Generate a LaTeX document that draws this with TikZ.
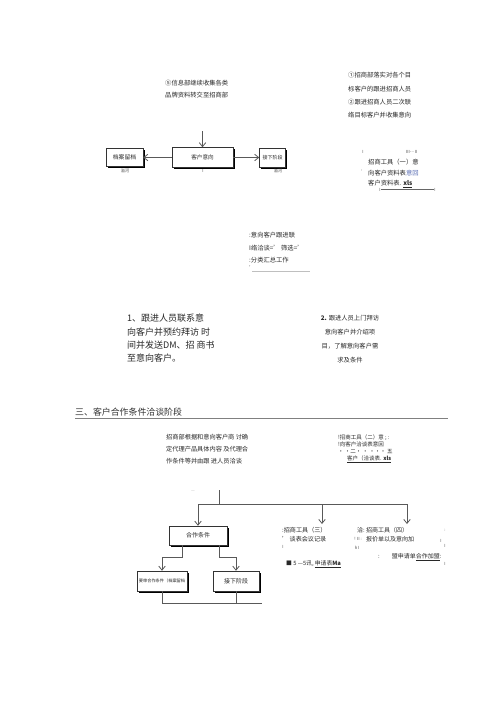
\documentclass[tikz,border=0pt]{standalone}
\usepackage{fontspec}
\setmainfont{Noto Sans CJK SC}
\usetikzlibrary{arrows.meta,shadows}
\definecolor{lnk}{RGB}{90,110,180}
\definecolor{ink}{RGB}{40,40,40}
\begin{document}
\begin{tikzpicture}[x=1pt,y=-1pt,
  txt/.style={inner sep=0pt,anchor=north west,align=left,text=ink},
  fsz/.style 2 args={font=\fontsize{#1}{#2}\selectfont},
  tiny/.style={inner sep=0pt,font=\fontsize{4.2}{5}\selectfont,text=black!70},
  sbox/.style={draw=black!80,line width=0.5pt,fill=white,inner sep=0pt,text=ink,
    drop shadow={shadow xshift=1.5pt,shadow yshift=-1.5pt,fill=black,opacity=1}},
  conn/.style={draw=black!65,line width=0.8pt},
  arr/.style={conn,-{Straight Barb[length=4pt,width=6.5pt]}},
  faint/.style={draw=black!25,line width=1pt}]
\useasboundingbox[fill=white] (0,0) rectangle (500,707);

% ---------- top part ----------
\node[txt,fsz={6.3}{12}] (t5) at (165,80.2) {⑤信息部继续收集各类\\品牌资料转交至招商部};
\node[sbox,minimum width=61pt,minimum height=20pt,fsz={5.6}{6}] (A) at (202.5,157.5) {客户意向};
\node[sbox,minimum width=37pt,minimum height=18pt,fsz={5.8}{6}] (B) at (124.5,157.5) {档案留档};
\node[sbox,minimum width=26pt,minimum height=19pt,fsz={5}{6}] (C) at (272.5,157.5) {接下阶段};
\coordinate (a0) at (202.5,131);
\draw[arr] (a0) -- (A.north);
\draw[arr] (A.west) -- (B.east);
\draw[arr] (A.east) -- (C.west);
\node[tiny] (B1) at (125,171) {溢河};
\node[tiny] (C1) at (278,171) {溢河};
\node[tiny] (A1) at (203,171) {I};

\node[txt,fsz={6.3}{13.3}] (t12) at (348,72.2) {①招商部落实对各个目\\标客户的跟进招商人员\\②跟进招商人员二次联\\络目标客户并收集意向};

\node[tiny] (r0) at (363,152) {I};
\node[tiny] (r1) at (412,152) {Ⅲ- -Ⅱ};
\node[txt,fsz={6.3}{10.5}] (t3) at (368,159.2) {招商工具（一）意\\向客户资料表\textcolor{lnk}{意回}\\客户资料表. \textbf{\underline{xls}}};
\node[tiny] (r4) at (363.5,172) {'};
\node[tiny] (r2) at (380,189.5) {I};
\node[tiny] (r3) at (435,189.5) {I};
\draw[draw=black!60,line width=0.5pt] (r2) -- (r3);

% ---------- middle ----------
\node[txt,fsz={6.3}{12.5}] (t4) at (249,232.2) {:意向客户跟进联\\I络洽谈=' 筛选='\\:分类汇总工作};
\node[tiny] (t4c) at (251,266) {，};
\coordinate (g1) at (252,271);
\coordinate (g2) at (310,271);
\draw[faint] (g1) -- (g2);

\node[txt,fsz={9}{13.3}] (t5b) at (127,314) {1、跟进人员联系意\\向客户并预约拜访 时\\间并发送DM、招 商书\\至意向客户。};
\node[txt,align=center,anchor=north,fsz={6.3}{14}] (t6) at (350,315.2) {\textbf{2.} 跟进人员上门拜访\\意向客户并介绍项\\目，了解意向客户需\\求及条件};

% ---------- section 3 ----------
\node[txt,fsz={8.9}{10},text=black!80] (h3) at (75,408) {三、客户合作条件洽谈阶段};
\coordinate (h3a) at (75,418.5);
\coordinate (h3b) at (448,418.5);
\draw[draw=black!50,line width=1.2pt] (h3a) -- (h3b);

\node[txt,fsz={6.2}{12}] (t7) at (166,434.2) {招商部根据和意向客户商 讨确\\定代理产品具体内容 及代理合\\作条件等并由跟 进人员洽谈};
\node[txt,fsz={5.5}{7}] (t8) at (338,434.5) {!招商工具（二）意 ; :\\!向客户洽谈表意回\\· ·二· · ··· 五\\\hspace{9pt}\underline{客户（洽谈表. \textbf{xls}}};

\node[tiny,text=black!30] (dsh) at (193,492) {—};
\coordinate (v0) at (219,490);
\coordinate (v1) at (219,504);
\coordinate (hl) at (198,504);
\coordinate (hm) at (322,504);
\coordinate (hr) at (407,504);
\coordinate (k3) at (322,524);
\coordinate (k4) at (407,524);
\draw[conn] (v0) -- (v1);
\draw[conn] (hl) -- (hr);

\node[sbox,minimum width=58pt,minimum height=19pt,fsz={6}{7}] (D) at (198,535.5) {合作条件};
\node[sbox,minimum width=50pt,minimum height=20pt,fsz={4.2}{5}] (E) at (162,581) {要审合作条件（档案留档};
\node[sbox,minimum width=46pt,minimum height=20pt,fsz={6}{7}] (F) at (236,581) {接下阶段};

\draw[arr] (hl) -- (D.north);
\draw[arr] (hm) -- (k3);
\draw[arr] (hr) -- (k4);
\draw[arr] ([xshift=-16pt]D.south) -- ++(0,12) -| (E.north);
\draw[arr] ([xshift=21pt]D.south) -- ++(0,12) -| (F.north);
\coordinate (bR) at (262,603);
\draw[conn] (E.south) |- (bR);
\draw[conn] (F.south) -- (F.south |- bR);

% bottom-right notes
\node[txt,fsz={6.1}{8.5}] (t9) at (282,527.3) {:招商工具（三）\\' 谈表会议记录};
\node[tiny] (t9b) at (283,547) {I};
\node[txt,fsz={6}{8.5}] (t10a) at (357,527.3) {洽:};
\node[txt,fsz={6}{9}] (t10) at (366,527.3) {招商工具（四）\\报价单以及意向加};
\node[tiny] (t10b) at (358,539) {!\,Ⅱ:};
\node[tiny] (t10c) at (357,548) {h\,I};
\node[tiny] (q1) at (445,530) {:};
\node[tiny] (q2) at (441,541) {I};
\node[tiny] (q3) at (445,546) {I};
\node[txt,fsz={6}{8}] (t11) at (378,553.3) {:\hspace{12pt}盟申请单\underline{合作加盟}:};
\node[tiny] (q4) at (445,564) {I};
\node[txt,fsz={5.8}{8}] (t12b) at (286,560.4) {■ 5 —5讯, \underline{申请表\textbf{Ma}}};
\end{tikzpicture}
\end{document}
